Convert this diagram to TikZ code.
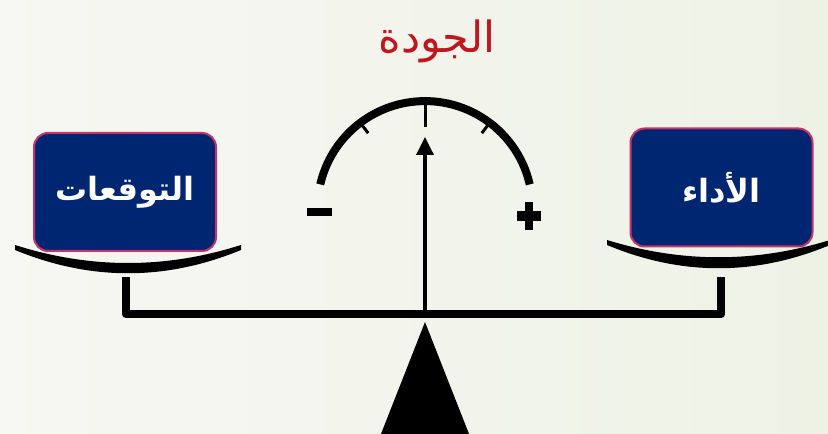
\documentclass[tikz,border=0pt]{standalone}
\usepackage{fontspec}
\usetikzlibrary{arrows.meta}
\TeXXeTstate=1
\newfontfamily\arabicfont[Script=Arabic]{DejaVu Sans}
\definecolor{navy}{RGB}{0,38,114}
\definecolor{rim}{RGB}{196,52,108}
\definecolor{titlered}{RGB}{192,22,30}
\definecolor{paperL}{RGB}{247,247,243}
\definecolor{paperR}{RGB}{238,242,229}
\tikzset{
pan/.style={draw=rim,line width=2pt,fill=navy,rounded corners=14pt,
  minimum width=182pt,minimum height=118pt,text=white,
  font=\arabicfont\bfseries\fontsize{32}{32}\selectfont},
bar/.style={line width=8.5pt,line join=round},
tick/.style={line width=3pt}
}
\begin{document}
\begin{tikzpicture}[x=1pt,y=1pt]
\shade[left color=paperL,right color=paperR] (0,0) rectangle (828,434);
\useasboundingbox (0,0) rectangle (828,434);
\node[text=titlered,font=\arabicfont\fontsize{43}{43}\selectfont] (quality) at (437,393) {\beginR الجودة\endR};
\coordinate (hub) at (425,225.4);
\coordinate (beammid) at (425,120);
\draw[line width=8pt] ([shift={(13:107.5)}]hub) arc[start angle=13,end angle=167,radius=107.5];
\foreach \ang/\len in {53/13,90/26,127/13}
\draw[tick] ([shift={(\ang:107.5)}]hub) -- ([shift={(\ang:107.5-\len)}]hub);
\draw[line width=3.5pt,-{Triangle[length=18pt,width=17pt]}] (beammid) -- ([yshift=71.6pt]hub);
\fill (307,218) rectangle (332,226);
\fill (517,213) rectangle (541,223);
\fill (525,204) rectangle (533,232);
\draw[bar] (126,157) -- (126,120) -- (721,120) -- (721,157);
\fill (425,112) -- (471,-5) -- (379,-5) -- cycle;
\foreach \a/\b/\t/\s/\u/\v in {15/241/189/165/184/153,607/830/194/171/189/158}{
\pgfmathsetmacro{\p}{\a+(\b-\a)/3}
\pgfmathsetmacro{\q}{\a+2*(\b-\a)/3}
\fill (\a,\t) .. controls (\p,\s) and (\q,\s) .. (\b,\t) -- (\b,\u) .. controls (\q,\v) and (\p,\v) .. (\a,\u) -- cycle;
}
\node[pan] (expect) at (125,242) {\beginR التوقعات\endR};
\node[pan] (perform) at (721.5,246.5) {\beginR الأداء\endR};
\end{tikzpicture}
\end{document}
